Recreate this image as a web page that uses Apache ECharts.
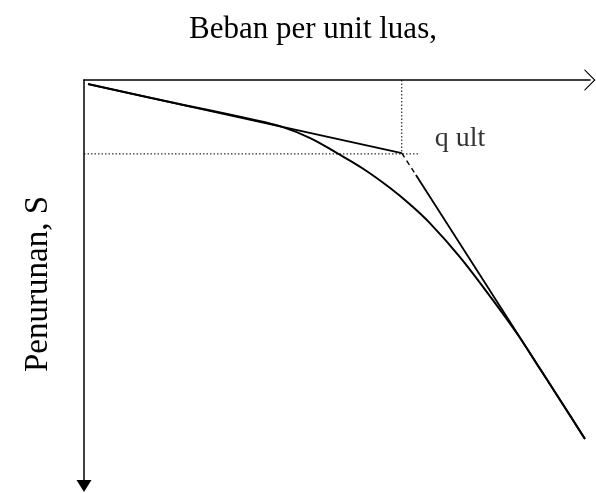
<!DOCTYPE html>
<html lang="en">

<head>
    <meta charset="UTF-8">
    <title>Beban - Penurunan</title>
    <style type="text/css">
        html, body { margin: 0; padding: 0; background: #fff; }
        #main {
            height: 493px;
            width: 596px;
        }
    </style>
    <script src="https://cdn.jsdelivr.net/npm/echarts@6/dist/echarts.min.js"></script>
</head>

<body>
    <div id="main"></div>
    <script type="text/javascript">
        // load (x) and settlement (y), 0..100 scale
        var curveLoad = [0.8, 17.0, 32.8, 39.3, 44.7, 50.0, 55.1, 60.5, 64.4, 68.4, 74.3, 80.2, 85.6, 90.1, 94.1, 99.0];
        var curveSettle = [1.0, 5.4, 9.6, 11.6, 14.3, 18.0, 21.8, 26.6, 30.6, 35.3, 43.6, 53.2, 62.5, 71.1, 78.8, 88.4];

        var tangent1Load = [0.8, 62.8];
        var tangent1Settle = [1.0, 18.0];

        var tangent2DashLoad = [62.8, 65.6];
        var tangent2DashSettle = [18.0, 23.4];
        var tangent2Load = [65.6, 99.0];
        var tangent2Settle = [23.4, 88.4];

        var qultLoad = 62.8;
        var qultSettle = 18.2;
        var dottedEndLoad = 66.0;

        var xTitle = 'Beban per unit luas,';
        var yTitle = 'Penurunan, S';
        var qultText = 'q ult';

        function pairs(xs, ys) {
            var out = [];
            for (var i = 0; i < xs.length; i++) {
                out.push([xs[i], ys[i]]);
            }
            return out;
        }

        var serif = 'Liberation Serif';
        var chevron = 'path://M0,11 L11,0 L22,11 L20.6,11 L11,1.6 L1.4,11 Z';

        var myChart = echarts.init(document.getElementById('main'));
        var option = {
            animation: false,
            backgroundColor: '#fff',
            grid: { left: 84, top: 80, right: 6, bottom: 7 },
            xAxis: {
                type: 'value',
                position: 'top',
                min: 0,
                max: 100,
                axisLine: {
                    onZero: false,
                    symbol: ['none', chevron],
                    symbolSize: [22, 11],
                    lineStyle: { color: '#000', width: 1.5 }
                },
                axisTick: { show: false },
                axisLabel: { show: false },
                splitLine: { show: false }
            },
            yAxis: {
                type: 'value',
                inverse: true,
                min: 0,
                max: 100,
                axisLine: {
                    show: true,
                    onZero: false,
                    symbol: ['triangle', 'none'],
                    symbolSize: [15, 12],
                    lineStyle: { color: '#000', width: 1.5 }
                },
                axisTick: { show: false },
                axisLabel: { show: false },
                splitLine: { show: false }
            },
            series: [
                {
                    name: 'kurva',
                    type: 'line',
                    smooth: 0.4,
                    symbol: 'none',
                    lineStyle: { color: '#000', width: 2 },
                    data: pairs(curveLoad, curveSettle)
                },
                {
                    name: 'tangen awal',
                    type: 'line',
                    symbol: 'none',
                    lineStyle: { color: '#000', width: 1.8 },
                    data: pairs(tangent1Load, tangent1Settle)
                },
                {
                    name: 'tangen akhir putus',
                    type: 'line',
                    symbol: 'none',
                    lineStyle: { color: '#000', width: 1.4, type: [5, 4] },
                    data: pairs(tangent2DashLoad, tangent2DashSettle)
                },
                {
                    name: 'tangen akhir',
                    type: 'line',
                    symbol: 'none',
                    lineStyle: { color: '#000', width: 1.8 },
                    data: pairs(tangent2Load, tangent2Settle)
                },
                {
                    name: 'garis q ult',
                    type: 'line',
                    symbol: 'none',
                    lineStyle: { color: '#000', width: 1, type: [1.5, 2] },
                    data: [[qultLoad, 0], [qultLoad, qultSettle]]
                },
                {
                    name: 'garis S',
                    type: 'line',
                    symbol: 'none',
                    lineStyle: { color: '#000', width: 1, type: [1.5, 2] },
                    data: [[0, qultSettle], [dottedEndLoad, qultSettle]]
                },
                {
                    name: 'label',
                    type: 'scatter',
                    symbolSize: 0,
                    label: {
                        show: true,
                        position: 'right',
                        distance: 33,
                        offset: [0, -14],
                        formatter: qultText,
                        fontFamily: serif,
                        fontSize: 28,
                        color: '#000'
                    },
                    data: [[qultLoad, tangent1Settle[1]]]
                }
            ],
            graphic: [
                {
                    type: 'text',
                    left: 189,
                    top: 14,
                    style: {
                        text: xTitle,
                        font: '31px "Liberation Serif"',
                        fill: '#000'
                    }
                },
                {
                    type: 'text',
                    x: 22,
                    y: 372,
                    rotation: Math.PI / 2,
                    style: {
                        text: yTitle,
                        font: '33px "Liberation Serif"',
                        fill: '#000',
                        align: 'left',
                        verticalAlign: 'top'
                    }
                }
            ]
        };
        myChart.setOption(option);
    </script>
</body>

</html>
